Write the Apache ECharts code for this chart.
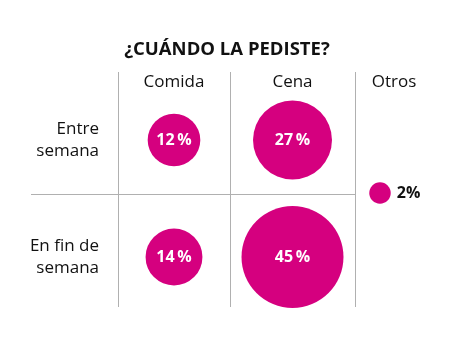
<!DOCTYPE html>
<html>
<head>
<meta charset="utf-8">
<script src="https://cdn.jsdelivr.net/npm/echarts@6/dist/echarts.min.js"></script>
<style>
html,body{margin:0;padding:0;background:#fff;}
#chart{width:466px;height:349px;}
</style>
</head>
<body>
<div id="chart"></div>
<script>
// ---- data ----
const titleText = '¿CUÁNDO LA PEDISTE?';
const columns = ['Comida', 'Cena'];
const rows = ['Entre semana', 'En fin de semana'];
const rowLabels = ['Entre\nsemana', 'En fin de\nsemana'];
const comidaValues = [12, 14];   // per row
const cenaValues = [27, 45];     // per row
const otrosLabel = 'Otros';
const otrosValue = 2;

// ---- style ----
const MAGENTA = '#d5007f';
const TEXT = '#111111';
const LINE = '#b0b0b0';
const FONT = '"Open Sans", "Noto Sans", sans-serif';
const K = 15.2; // diameter per sqrt(value) -> area proportional

const chart = echarts.init(document.getElementById('chart'), null, {renderer: 'canvas'});

const hiddenAxis = {
  axisLine: {show: false}, axisTick: {show: false}, splitLine: {show: false}
};
function colXAxis(name, gridIndex) {
  return Object.assign({
    type: 'category', data: [name], gridIndex: gridIndex, position: 'top',
    axisLabel: {fontFamily: FONT, fontSize: 17, color: TEXT, margin: -1, verticalAlign: 'middle'}
  }, hiddenAxis);
}
function rowLabelAxis(showIndex, pad) {
  return Object.assign({
    type: 'category', data: rows, gridIndex: 0, inverse: true, position: 'left',
    axisLabel: {
      fontFamily: FONT, fontSize: 17, color: TEXT, lineHeight: 22, align: 'right', margin: 19,
      padding: pad,
      formatter: (v, i) => i === showIndex ? rowLabels[i] : ''
    }
  }, hiddenAxis);
}
function bubbleSeries(col, vals, gi) {
  return {
    type: 'scatter', xAxisIndex: gi, yAxisIndex: gi === 0 ? 0 : gi + 1,
    data: rows.map((r, i) => [col, r, vals[i]]),
    symbolSize: d => K * Math.sqrt(d[2]),
    itemStyle: {color: MAGENTA, opacity: 1},
    label: {
      show: true, position: 'inside', color: '#fff', fontFamily: FONT, fontWeight: 'bold', fontSize: 16,
      formatter: p => p.value[2] + '\u2009%'
    },
    emphasis: {disabled: true}, silent: true, animation: false
  };
}

const lineStyle = {stroke: LINE, lineWidth: 1};
chart.setOption({
  animation: false,
  title: {
    text: titleText, left: 222, top: 35, textAlign: 'center',
    textStyle: {fontFamily: FONT, fontSize: 18.5, fontWeight: 'bold', color: TEXT}
  },
  grid: [
    {left: 118, width: 112, top: 81.5, height: 234},
    {left: 230, width: 125, top: 81.5, height: 234},
    {left: 355, width: 78, top: 81.5, height: 223}
  ],
  xAxis: [colXAxis(columns[0], 0), colXAxis(columns[1], 1), colXAxis(otrosLabel, 2)],
  yAxis: [
    rowLabelAxis(0, [10, 0, 0, 0]),
    rowLabelAxis(1, 0),
    Object.assign({type: 'category', data: rows, gridIndex: 1, inverse: true, axisLabel: {show: false}}, hiddenAxis),
    Object.assign({type: 'category', data: [otrosLabel], gridIndex: 2, axisLabel: {show: false}}, hiddenAxis)
  ],
  series: [
    bubbleSeries(columns[0], comidaValues, 0),
    bubbleSeries(columns[1], cenaValues, 1),
    {
      type: 'scatter', xAxisIndex: 2, yAxisIndex: 3,
      data: [[otrosLabel, otrosLabel, otrosValue]],
      symbolSize: d => K * Math.sqrt(d[2]),
      symbolOffset: [-14, 0],
      itemStyle: {color: MAGENTA, opacity: 1},
      label: {
        show: true, position: 'right', distance: 6, color: TEXT, fontFamily: FONT, fontWeight: 'bold', fontSize: 16,
        formatter: p => p.value[2] + '%'
      },
      emphasis: {disabled: true}, silent: true, animation: false
    }
  ],
  graphic: [
    {type: 'line', shape: {x1: 118.5, y1: 72, x2: 118.5, y2: 307}, style: lineStyle, silent: true},
    {type: 'line', shape: {x1: 230.5, y1: 72, x2: 230.5, y2: 307}, style: lineStyle, silent: true},
    {type: 'line', shape: {x1: 355.5, y1: 72, x2: 355.5, y2: 307}, style: lineStyle, silent: true},
    {type: 'line', shape: {x1: 31, y1: 194.5, x2: 355, y2: 194.5}, style: lineStyle, silent: true}
  ]
});
</script>
</body>
</html>
